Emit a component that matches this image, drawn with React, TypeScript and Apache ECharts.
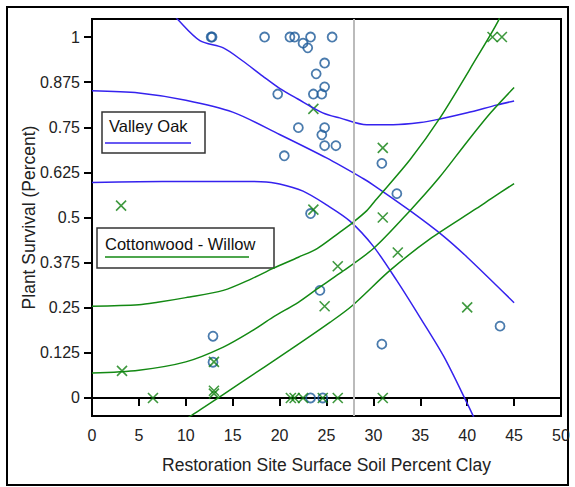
import React, { useEffect, useRef } from "react";
import * as echarts from "echarts";

// Observed survival vs. soil clay percent
const VALLEY_OAK_POINTS: [number, number][] = [
  [12.7, 1], [12.8, 1], [18.4, 1], [21.1, 1], [21.6, 1], [23.3, 1], [25.6, 1],
  [22.5, 0.983], [23.0, 0.97], [24.8, 0.928], [23.9, 0.898], [24.8, 0.862],
  [19.8, 0.842], [23.6, 0.842], [24.5, 0.842], [22.0, 0.749], [24.8, 0.749],
  [24.5, 0.729], [24.8, 0.699], [26.0, 0.699], [20.5, 0.671], [23.3, 0.511],
  [30.9, 0.65], [32.5, 0.566], [24.3, 0.298], [12.9, 0.171], [12.9, 0.099],
  [30.9, 0.149], [43.5, 0.199], [23.3, 0], [24.6, 0],
];

const COTTONWOOD_POINTS: [number, number][] = [
  [3.1, 0.533], [23.6, 0.801], [31.0, 0.693], [42.7, 1], [43.7, 1],
  [23.6, 0.522], [26.2, 0.365], [24.8, 0.254], [31.0, 0.5], [32.6, 0.403],
  [40.0, 0.251], [3.2, 0.075], [13.0, 0.1], [13.0, 0.02], [13.0, 0.012],
  [6.5, 0], [21.2, 0], [21.6, 0], [22.5, 0], [24.6, 0], [26.2, 0], [31.0, 0],
];

// Valley Oak fitted curve and confidence bands
const VO_FIT: [number, number][] = [
  [0, 0.851], [5, 0.845], [10, 0.825], [15, 0.792], [20, 0.73], [25, 0.665],
  [28.9, 0.608], [30, 0.59], [33.9, 0.519], [37.4, 0.45], [40, 0.39], [45, 0.264],
];
const VO_UPPER: [number, number][] = [
  [8.5, 1.07], [9.2, 1.047], [11.5, 0.99], [14, 0.97], [16, 0.935], [18.2, 0.892],
  [20, 0.858], [21.9, 0.829], [24.6, 0.79], [26.4, 0.776], [29.3, 0.757],
  [32.1, 0.757], [35, 0.763], [37.1, 0.773], [40, 0.79], [43.2, 0.812], [45, 0.823],
];
const VO_LOWER: [number, number][] = [
  [0, 0.597], [5, 0.599], [10, 0.6], [15, 0.6], [18, 0.599], [20, 0.593],
  [22.5, 0.573], [25, 0.535], [27.5, 0.49], [30, 0.42], [32.5, 0.325],
  [35, 0.222], [37.5, 0.115], [40, -0.015], [41, -0.07],
];

// Cottonwood - Willow fitted curve and confidence bands
const CW_FIT: [number, number][] = [
  [0, 0.069], [5, 0.077], [10, 0.1], [14, 0.141], [17, 0.185], [19.3, 0.224],
  [22, 0.265], [24, 0.302], [26.4, 0.345], [30, 0.414], [33.9, 0.519],
  [37, 0.61], [40, 0.71], [42.5, 0.79], [45, 0.86],
];
const CW_UPPER: [number, number][] = [
  [0, 0.254], [5, 0.258], [7, 0.265], [10, 0.278], [14, 0.298], [17, 0.33],
  [19.3, 0.359], [22, 0.39], [24, 0.414], [26.4, 0.459], [27.8, 0.486],
  [29.3, 0.519], [30.2, 0.547], [33.9, 0.66], [37.1, 0.776], [41, 0.942],
  [43.3, 1.044], [43.6, 1.07],
];
const CW_LOWER: [number, number][] = [
  [9.4, -0.07], [10.5, -0.05], [12, -0.025], [15.8, 0.041], [21.1, 0.133],
  [25.4, 0.21], [27.8, 0.257], [31.8, 0.354], [36, 0.44], [41, 0.525],
  [42.6, 0.553], [45, 0.594],
];

const Y_TICKS = [0, 0.125, 0.25, 0.375, 0.5, 0.625, 0.75, 0.875, 1];
const CLAY_THRESHOLD = 27.9;

const BLUE_LINE = "#3522ee";
const BLUE_MARK = "#1d5a98";
const GREEN_LINE = "#138913";
const GREEN_MARK = "#0f800f";
const FONT = "'Liberation Sans', Arial, sans-serif";

export default function App() {
  const ref = useRef<HTMLDivElement>(null);
  useEffect(() => {
    const chart = echarts.init(ref.current!, null, { renderer: "svg" });
    const lineSeries = (data: [number, number][], color: string, extra: any = {}) => ({
      type: "line",
      data,
      smooth: 0.3,
      showSymbol: false,
      symbol: "none",
      clip: true,
      silent: true,
      lineStyle: { color, width: 1.5 },
      ...extra,
    });
    chart.setOption({
      animation: false,
      textStyle: { fontFamily: FONT },
      grid: {
        left: 92,
        right: 14,
        top: 19,
        bottom: 71,
        show: true,
        borderColor: "#000",
        borderWidth: 2,
      },
      xAxis: {
        type: "value",
        min: 0,
        max: 50,
        interval: 5,
        name: "Restoration Site Surface Soil Percent Clay",
        nameLocation: "middle",
        nameGap: 40,
        nameMoveOverlap: false,
        nameTextStyle: { fontSize: 17.5, color: "#222", fontFamily: FONT },
        axisLine: { lineStyle: { color: "#000", width: 2 } },
        axisTick: { length: 8, lineStyle: { color: "#000", width: 2 } },
        axisLabel: { fontSize: 16, color: "#222", margin: 11, fontFamily: FONT },
        splitLine: { show: false },
      },
      yAxis: {
        type: "value",
        min: -0.05,
        max: 1.05,
        name: "Plant Survival (Percent)",
        nameLocation: "middle",
        nameGap: 54,
        nameMoveOverlap: false,
        nameTextStyle: { fontSize: 17.5, color: "#222", fontFamily: FONT },
        axisLine: { lineStyle: { color: "#000", width: 2 } },
        axisTick: {
          length: 8,
          customValues: Y_TICKS,
          lineStyle: { color: "#000", width: 2 },
        },
        axisLabel: {
          customValues: Y_TICKS,
          fontSize: 16,
          color: "#222",
          margin: 12,
          fontFamily: FONT,
          formatter: (v: number) => String(v),
        },
        splitLine: { show: false },
      },
      series: [
        lineSeries(VO_UPPER, BLUE_LINE, {
          markLine: {
            silent: true,
            symbol: "none",
            label: { show: false },
            lineStyle: { color: "#bbbbbb", width: 2, type: "solid" },
            data: [{ xAxis: CLAY_THRESHOLD }],
          },
        }),
        lineSeries(VO_FIT, BLUE_LINE),
        lineSeries(VO_LOWER, BLUE_LINE),
        lineSeries(CW_UPPER, GREEN_LINE),
        lineSeries(CW_FIT, GREEN_LINE),
        lineSeries(CW_LOWER, GREEN_LINE),
        {
          type: "scatter",
          data: VALLEY_OAK_POINTS,
          symbol: "circle",
          symbolSize: 9,
          itemStyle: { color: "transparent", borderColor: BLUE_MARK, borderWidth: 1.8 },
          silent: true,
        },
        {
          type: "scatter",
          data: COTTONWOOD_POINTS,
          symbol: "path://M0,0L10,10M10,0L0,10",
          symbolSize: 10,
          itemStyle: { color: "transparent", borderColor: GREEN_MARK, borderWidth: 1.6 },
          silent: true,
        },
      ],
      graphic: [
        {
          type: "rect",
          shape: { x: 7, y: 7, width: 561, height: 478 },
          style: { fill: "none", stroke: "#000", lineWidth: 2 },
          silent: true,
        },
        {
          type: "group",
          children: [
            {
              type: "rect",
              shape: { x: 102, y: 112, width: 103, height: 41 },
              style: { fill: "#fff", stroke: "#333", lineWidth: 1.5 },
            },
            {
              type: "text",
              x: 109,
              y: 117,
              style: { text: "Valley Oak", font: `16.5px ${FONT}`, fill: "#111" },
            },
            {
              type: "line",
              shape: { x1: 105, y1: 143, x2: 191, y2: 143 },
              style: { stroke: BLUE_LINE, lineWidth: 1.5 },
            },
          ],
        },
        {
          type: "group",
          children: [
            {
              type: "rect",
              shape: { x: 97, y: 228, width: 177, height: 40 },
              style: { fill: "#fff", stroke: "#333", lineWidth: 1.5 },
            },
            {
              type: "text",
              x: 105,
              y: 235,
              style: { text: "Cottonwood - Willow", font: `16.5px ${FONT}`, fill: "#111" },
            },
            {
              type: "line",
              shape: { x1: 105, y1: 257, x2: 249, y2: 257 },
              style: { stroke: GREEN_LINE, lineWidth: 1.5 },
            },
          ],
        },
      ],
    });
    return () => chart.dispose();
  }, []);
  return (
    <div
      ref={ref}
      style={{ position: "absolute", left: 0, top: 0, width: 575, height: 487 }}
    />
  );
}
